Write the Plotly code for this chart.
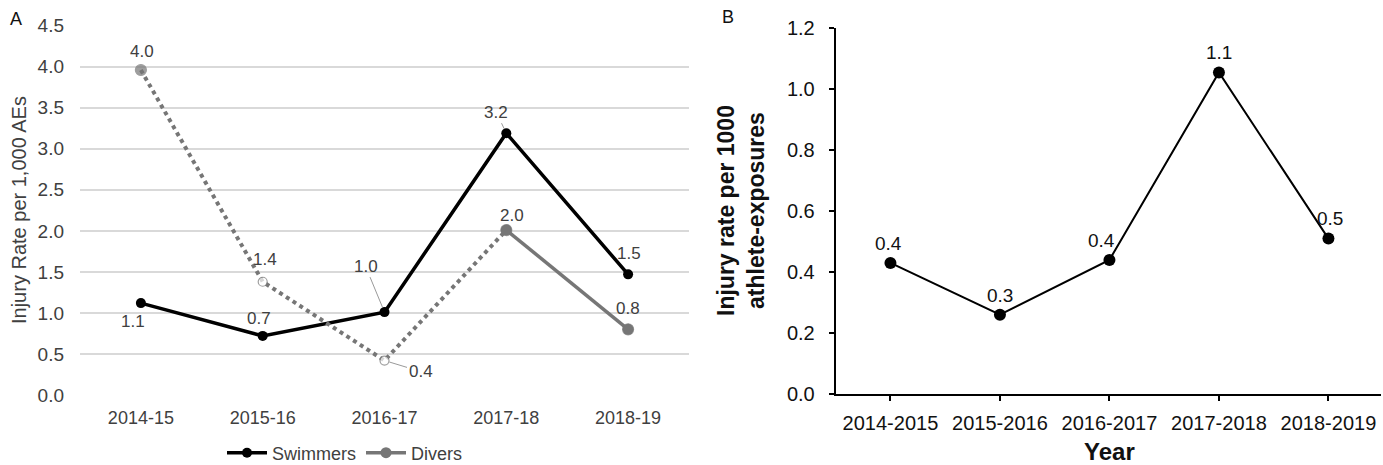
import plotly.graph_objects as go

# ---------------- data ----------------
seasons_a = ["2014-15", "2015-16", "2016-17", "2017-18", "2018-19"]
swimmers = [1.12, 0.72, 1.01, 3.19, 1.47]
divers = [3.96, 1.38, 0.42, 2.01, 0.80]
divers_hollow = [False, True, True, False, False]
divers_dotted_upto = 3  # dotted segments end at this index

seasons_b = ["2014-2015", "2015-2016", "2016-2017", "2017-2018", "2018-2019"]
rate_b = [0.43, 0.26, 0.44, 1.055, 0.51]

yticks_a = [0.0, 0.5, 1.0, 1.5, 2.0, 2.5, 3.0, 3.5, 4.0, 4.5]
yticks_b = [0.0, 0.2, 0.4, 0.6, 0.8, 1.0, 1.2]

# label offsets (pixels): (dx, dy, leader)
sw_label_off = [(-8, 18, False), (-4, -17, False), (-19, -46, True), (-10, -21, True), (1, -21, False)]
dv_label_off = [(1, -19, False), (2, -22, False), (36, 11, True), (6, -15, False), (0, -21, False)]
b_label_off = [(-2, -19), (0, -19), (-8, -19), (0, -20), (2, -20)]

W, H = 1383, 465
FONT = "Liberation Sans, Arial, sans-serif"
BLACK = "#000000"
GRAY = "#767676"
TXT = "#404040"

fig = go.Figure()

# ---------- Panel A ----------
fig.add_trace(go.Scatter(
    x=seasons_a, y=swimmers, mode="lines+markers", name="Swimmers",
    line=dict(color=BLACK, width=3.5),
    marker=dict(color=BLACK, size=10),
    xaxis="x", yaxis="y", showlegend=True))

n = divers_dotted_upto + 1
fig.add_trace(go.Scatter(
    x=seasons_a[:n], y=divers[:n], mode="lines",
    line=dict(color=GRAY, width=4, dash="dot"),
    xaxis="x", yaxis="y", showlegend=False, hoverinfo="skip"))
fig.add_trace(go.Scatter(
    x=seasons_a[divers_dotted_upto:], y=divers[divers_dotted_upto:], mode="lines+markers",
    name="Divers", line=dict(color=GRAY, width=3.5),
    marker=dict(color=GRAY, size=11),
    xaxis="x", yaxis="y", showlegend=True))
fig.add_trace(go.Scatter(
    x=seasons_a, y=divers, mode="markers",
    marker=dict(color=["white" if h else GRAY for h in divers_hollow],
                size=[9 if h else 11 for h in divers_hollow],
                line=dict(color=GRAY, width=1.2)),
    xaxis="x", yaxis="y", showlegend=False))

annotations = []
for series, offs in ((swimmers, sw_label_off), (divers, dv_label_off)):
    for cat, v, (dx, dy, lead) in zip(seasons_a, series, offs):
        if lead:
            annotations.append(dict(
                x=cat, y=v, xref="x", yref="y", text=f"{v:.1f}",
                showarrow=True, arrowhead=0, arrowwidth=1, arrowcolor="#9a9a9a",
                ax=dx, ay=dy, standoff=5,
                font=dict(family=FONT, size=17, color=TXT)))
        else:
            annotations.append(dict(
                x=cat, y=v, xref="x", yref="y", text=f"{v:.1f}",
                showarrow=False, xshift=dx, yshift=-dy,
                xanchor="center", yanchor="middle",
                font=dict(family=FONT, size=17, color=TXT)))

# ---------- Panel B ----------
fig.add_trace(go.Scatter(
    x=seasons_b, y=rate_b, mode="lines+markers",
    line=dict(color=BLACK, width=2),
    marker=dict(color=BLACK, size=12),
    xaxis="x2", yaxis="y2", showlegend=False))

for cat, v, (dx, dy) in zip(seasons_b, rate_b, b_label_off):
    annotations.append(dict(
        x=cat, y=v, xref="x2", yref="y2", text=f"{v:.1f}",
        showarrow=False, xshift=dx, yshift=-dy,
        xanchor="center", yanchor="middle",
        font=dict(family=FONT, size=19, color="#111111")))


def paper_text(px, py, text, size, color, angle=0):
    return dict(x=px / W, y=1 - py / H, xref="paper", yref="paper", text=text,
                textangle=angle, showarrow=False, xanchor="center", yanchor="middle",
                font=dict(family=FONT, size=size, color=color))


annotations.append(paper_text(16, 19, "A", 18, "#111111"))
annotations.append(paper_text(728, 17, "B", 18, "#111111"))
annotations.append(paper_text(19, 210, "Injury Rate per 1,000 AEs", 20, TXT, -90))
annotations.append(paper_text(741, 211, "<b>Injury rate per 1000<br>athlete-exposures</b>",
                              23, "#111111", -90))
annotations.append(paper_text(1109, 451, "<b>Year</b>", 24, "#111111"))

fig.update_layout(
    width=W, height=H,
    margin=dict(l=0, r=0, t=0, b=0, pad=0, autoexpand=False),
    paper_bgcolor="white", plot_bgcolor="white",
    font=dict(family=FONT),
    annotations=annotations,
    legend=dict(orientation="h", x=222 / W, y=1 - 453 / H, xanchor="left", yanchor="middle",
                font=dict(family=FONT, size=18, color=TXT), bgcolor="rgba(0,0,0,0)",
                itemwidth=40, tracegroupgap=0),
    xaxis=dict(domain=[80 / W, 689 / W], range=[-0.5, 4.5], type="category",
               showgrid=False, zeroline=False, showline=False, ticks="", automargin=False,
               tickfont=dict(family=FONT, size=18, color=TXT), ticklabelstandoff=10),
    yaxis=dict(domain=[70 / H, 1 - 25.7 / H], range=[0, 4.5], tickvals=yticks_a,
               ticktext=[f"{t:.1f}" for t in yticks_a], automargin=False,
               showgrid=True, gridcolor="#d9d9d9", gridwidth=1.5, zeroline=False,
               showline=False, ticks="", tickfont=dict(family=FONT, size=19, color=TXT),
               ticklabelstandoff=15),
    xaxis2=dict(domain=[835.7 / W, 1381 / W], range=[-0.5, 4.48], type="category",
                anchor="y2", showgrid=False, zeroline=False, showline=True, automargin=False,
                linecolor=BLACK, linewidth=2, ticks="outside", ticklen=5, tickwidth=2,
                tickcolor=BLACK, tickfont=dict(family=FONT, size=20, color="#111111"),
                ticklabelstandoff=5),
    yaxis2=dict(domain=[71 / H, 1 - 28.3 / H], range=[0, 1.2], anchor="x2",
                tickvals=yticks_b, ticktext=[f"{t:.1f}" for t in yticks_b], automargin=False,
                showgrid=False, zeroline=False, showline=True, linecolor=BLACK, linewidth=2,
                ticks="outside", ticklen=5, tickwidth=2, tickcolor=BLACK,
                tickfont=dict(family=FONT, size=20, color="#111111"), ticklabelstandoff=10),
)

fig.write_html("out.html", config={"displayModeBar": False},
               post_script="document.body.style.margin='0';document.body.style.overflow='hidden';")
